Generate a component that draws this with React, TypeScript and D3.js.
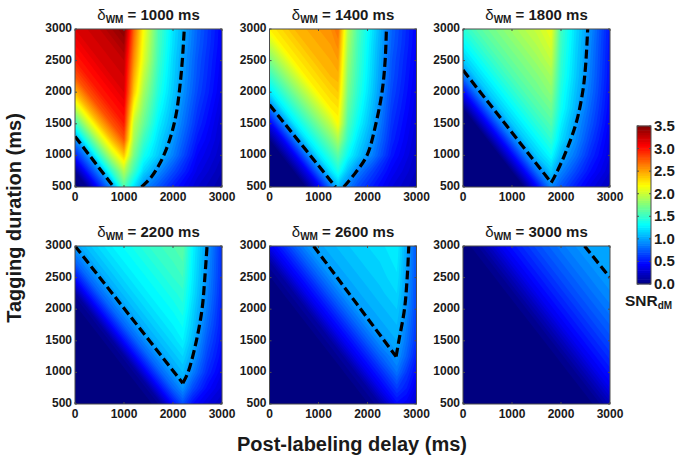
import React from "react";
import * as d3 from "d3";

// y grid of every panel (tagging duration, ms)
const rows = [500, 750, 1000, 1250, 1500, 1750, 2000, 2250, 2500, 2750, 3000];

const deltas = [1000, 1400, 1800, 2200, 2600, 3000];

const cols1 = [0, 250, 500, 750, 1000, 1200, 1400, 1700, 2000, 2500, 3000];
const snr1 = [
  [0, 0.1, 0.55, 0.95, 1.6, 1.25, 0.95, 0.75, 0.55, 0.3, 0.15],
  [0.1, 0.55, 0.95, 1.5, 1.95, 1.55, 1.2, 0.95, 0.72, 0.38, 0.2],
  [0.55, 0.95, 1.5, 2.0, 2.4, 1.75, 1.4, 1.15, 0.9, 0.45, 0.25],
  [0.95, 1.5, 2.0, 2.45, 2.8, 1.9, 1.55, 1.22, 0.98, 0.53, 0.28],
  [1.5, 2.0, 2.45, 2.8, 3.0, 2.0, 1.7, 1.3, 1.05, 0.6, 0.3],
  [2.0, 2.45, 2.8, 3.0, 3.1, 2.2, 1.8, 1.38, 1.1, 0.65, 0.34],
  [2.45, 2.8, 3.0, 3.1, 3.2, 2.4, 1.9, 1.45, 1.15, 0.7, 0.38],
  [2.8, 3.0, 3.1, 3.2, 3.25, 2.5, 2.0, 1.5, 1.18, 0.73, 0.4],
  [3.0, 3.1, 3.2, 3.25, 3.3, 2.6, 2.1, 1.55, 1.2, 0.75, 0.42],
  [3.1, 3.2, 3.25, 3.3, 3.4, 2.68, 2.15, 1.58, 1.23, 0.78, 0.44],
  [3.2, 3.25, 3.3, 3.4, 3.5, 2.75, 2.2, 1.6, 1.25, 0.8, 0.45],
];

const cols2 = [0, 250, 500, 750, 1000, 1250, 1400, 1600, 1800, 2100, 2500, 3000];
const snr2 = [
  [0, 0, 0, 0.05, 0.4, 0.85, 1.1, 0.9, 0.72, 0.55, 0.35, 0.2],
  [0, 0, 0.05, 0.4, 0.85, 1.25, 1.42, 1.12, 0.9, 0.68, 0.43, 0.24],
  [0, 0.05, 0.4, 0.85, 1.25, 1.5, 1.65, 1.35, 1.15, 0.9, 0.52, 0.27],
  [0.05, 0.4, 0.85, 1.25, 1.5, 1.75, 1.92, 1.5, 1.25, 0.98, 0.58, 0.3],
  [0.4, 0.85, 1.25, 1.5, 1.75, 2.0, 2.2, 1.6, 1.35, 1.05, 0.62, 0.33],
  [0.85, 1.25, 1.5, 1.75, 2.0, 2.25, 2.3, 1.68, 1.42, 1.1, 0.66, 0.36],
  [1.25, 1.5, 1.75, 2.0, 2.25, 2.35, 2.4, 1.75, 1.48, 1.15, 0.7, 0.38],
  [1.5, 1.75, 2.0, 2.25, 2.35, 2.45, 2.48, 1.8, 1.52, 1.18, 0.73, 0.4],
  [1.75, 2.0, 2.25, 2.35, 2.45, 2.5, 2.55, 1.85, 1.55, 1.2, 0.75, 0.42],
  [2.0, 2.25, 2.35, 2.45, 2.5, 2.55, 2.62, 1.9, 1.57, 1.22, 0.78, 0.44],
  [2.25, 2.35, 2.45, 2.5, 2.55, 2.6, 2.7, 1.95, 1.6, 1.25, 0.8, 0.45],
];

const cols3 = [0, 250, 500, 750, 1000, 1250, 1500, 1800, 2000, 2300, 2600, 3000];
const snr3 = [
  [0, 0, 0, 0, 0, 0.05, 0.45, 0.92, 0.75, 0.55, 0.38, 0.22],
  [0, 0, 0, 0, 0.05, 0.45, 0.85, 1.15, 0.92, 0.7, 0.5, 0.3],
  [0, 0, 0, 0.05, 0.45, 0.85, 1.15, 1.35, 1.07, 0.85, 0.6, 0.35],
  [0, 0, 0.05, 0.45, 0.85, 1.15, 1.32, 1.5, 1.22, 0.95, 0.68, 0.38],
  [0, 0.05, 0.45, 0.85, 1.15, 1.32, 1.47, 1.62, 1.3, 1.0, 0.75, 0.42],
  [0.05, 0.45, 0.85, 1.15, 1.32, 1.47, 1.6, 1.72, 1.38, 1.08, 0.8, 0.45],
  [0.45, 0.85, 1.15, 1.32, 1.47, 1.6, 1.7, 1.82, 1.42, 1.12, 0.85, 0.47],
  [0.85, 1.15, 1.32, 1.47, 1.6, 1.7, 1.78, 1.9, 1.47, 1.16, 0.88, 0.49],
  [1.15, 1.32, 1.47, 1.6, 1.7, 1.78, 1.87, 2.0, 1.5, 1.18, 0.9, 0.5],
  [1.32, 1.47, 1.6, 1.7, 1.78, 1.87, 1.95, 2.08, 1.53, 1.2, 0.92, 0.51],
  [1.47, 1.6, 1.7, 1.78, 1.87, 1.95, 2.02, 2.15, 1.55, 1.22, 0.95, 0.52],
];

const cols4 = [0, 250, 500, 750, 1000, 1250, 1500, 1750, 2000, 2200, 2400, 2700, 3000];
const snr4 = [
  [0, 0, 0, 0, 0, 0, 0.02, 0.12, 0.5, 0.72, 0.5, 0.35, 0.25],
  [0, 0, 0, 0, 0, 0.02, 0.12, 0.5, 0.8, 0.96, 0.72, 0.48, 0.33],
  [0, 0, 0, 0, 0.02, 0.12, 0.5, 0.8, 1.0, 1.1, 0.9, 0.6, 0.4],
  [0, 0, 0, 0.02, 0.12, 0.5, 0.8, 1.0, 1.12, 1.2, 1.02, 0.68, 0.46],
  [0, 0, 0.02, 0.12, 0.5, 0.8, 1.0, 1.12, 1.22, 1.3, 1.1, 0.75, 0.5],
  [0, 0.02, 0.12, 0.5, 0.8, 1.0, 1.12, 1.22, 1.3, 1.36, 1.16, 0.82, 0.53],
  [0.02, 0.12, 0.5, 0.8, 1.0, 1.12, 1.22, 1.3, 1.36, 1.43, 1.2, 0.88, 0.55],
  [0.12, 0.5, 0.8, 1.0, 1.12, 1.22, 1.3, 1.36, 1.43, 1.48, 1.25, 0.92, 0.58],
  [0.5, 0.8, 1.0, 1.12, 1.22, 1.3, 1.36, 1.43, 1.5, 1.55, 1.28, 0.95, 0.6],
  [0.8, 1.0, 1.12, 1.22, 1.3, 1.36, 1.43, 1.5, 1.55, 1.6, 1.3, 0.97, 0.61],
  [1.0, 1.12, 1.22, 1.3, 1.36, 1.43, 1.5, 1.55, 1.6, 1.65, 1.32, 0.99, 0.62],
];

const cols5 = [0, 250, 500, 750, 1000, 1250, 1500, 1750, 2000, 2250, 2600, 2800, 3000];
const snr5 = [
  [0, 0, 0, 0, 0, 0, 0, 0, 0.04, 0.14, 0.48, 0.42, 0.3],
  [0, 0, 0, 0, 0, 0, 0, 0.04, 0.14, 0.4, 0.66, 0.55, 0.38],
  [0, 0, 0, 0, 0, 0, 0.04, 0.14, 0.4, 0.58, 0.85, 0.65, 0.47],
  [0, 0, 0, 0, 0, 0.04, 0.14, 0.4, 0.58, 0.78, 0.98, 0.78, 0.55],
  [0, 0, 0, 0, 0.04, 0.14, 0.4, 0.58, 0.78, 0.95, 1.05, 0.85, 0.62],
  [0, 0, 0, 0.04, 0.14, 0.4, 0.58, 0.78, 0.95, 1.03, 1.1, 0.9, 0.65],
  [0, 0, 0.04, 0.14, 0.4, 0.58, 0.78, 0.95, 1.03, 1.08, 1.15, 0.95, 0.68],
  [0, 0.04, 0.14, 0.4, 0.58, 0.78, 0.95, 1.03, 1.08, 1.13, 1.2, 0.98, 0.7],
  [0.04, 0.14, 0.4, 0.58, 0.78, 0.95, 1.03, 1.08, 1.13, 1.17, 1.24, 1.0, 0.72],
  [0.14, 0.4, 0.58, 0.78, 0.95, 1.03, 1.08, 1.13, 1.17, 1.2, 1.27, 1.02, 0.74],
  [0.4, 0.58, 0.78, 0.95, 1.03, 1.08, 1.13, 1.17, 1.2, 1.23, 1.3, 1.03, 0.75],
];

const cols6 = [0, 250, 500, 750, 1000, 1250, 1500, 1750, 2000, 2250, 2500, 2750, 3000];
const snr6 = [
  [0, 0, 0, 0, 0, 0, 0, 0, 0, 0, 0.02, 0.07, 0.22],
  [0, 0, 0, 0, 0, 0, 0, 0, 0, 0.02, 0.07, 0.22, 0.4],
  [0, 0, 0, 0, 0, 0, 0, 0, 0.02, 0.07, 0.22, 0.4, 0.52],
  [0, 0, 0, 0, 0, 0, 0, 0.02, 0.07, 0.22, 0.4, 0.52, 0.62],
  [0, 0, 0, 0, 0, 0, 0.02, 0.07, 0.22, 0.4, 0.52, 0.62, 0.72],
  [0, 0, 0, 0, 0, 0.02, 0.07, 0.22, 0.4, 0.52, 0.62, 0.72, 0.8],
  [0, 0, 0, 0, 0.02, 0.07, 0.22, 0.4, 0.52, 0.62, 0.72, 0.8, 0.88],
  [0, 0, 0, 0.02, 0.07, 0.22, 0.4, 0.52, 0.62, 0.72, 0.8, 0.88, 0.94],
  [0, 0, 0.02, 0.07, 0.22, 0.4, 0.52, 0.62, 0.72, 0.8, 0.88, 0.94, 1.0],
  [0, 0.02, 0.07, 0.22, 0.4, 0.52, 0.62, 0.72, 0.8, 0.88, 0.94, 1.0, 1.03],
  [0.02, 0.07, 0.22, 0.4, 0.52, 0.62, 0.72, 0.8, 0.88, 0.94, 1.0, 1.03, 1.05],
];

// dashed SNR = 1 contour, two arms per panel: [delay, duration]
const dash1: number[][][] = [
  [[0, 1300], [790, 500]],
  [[1357, 500], [1550, 650], [1730, 870], [1880, 1130], [1990, 1400], [2075, 1700], [2140, 2085], [2190, 2500], [2230, 3000]],
];
const dash2: number[][][] = [
  [[0, 1800], [1350, 500]],
  [[1514, 500], [1750, 720], [1990, 1000], [2175, 1515], [2298, 2010], [2360, 2500], [2386, 3000]],
];
const dash3: number[][][] = [
  [[0, 2350], [1800, 570]],
  [[1800, 570], [1866, 660], [2070, 1000], [2308, 1510], [2444, 2010], [2500, 2400], [2545, 3000]],
];
const dash4: number[][][] = [
  [[0, 3000], [2200, 830]],
  [[2200, 830], [2307, 1000], [2477, 1500], [2593, 2000], [2650, 2500], [2695, 3000]],
];
const dash5: number[][][] = [
  [[900, 3000], [2584, 1250]],
  [[2584, 1250], [2640, 1500], [2755, 2000], [2810, 2500], [2843, 3000]],
];
const dash6: number[][][] = [[[2480, 3000], [3000, 2500]]];

const xTicks = [0, 1000, 2000, 3000];
const yTicks = [500, 1000, 1500, 2000, 2500, 3000];
const barTicks = [0, 0.5, 1, 1.5, 2, 2.5, 3, 3.5];
const levels = d3.range(1, 71).map((i) => i * 0.05);

const panels = [
  { cols: cols1, snr: snr1, dash: dash1 },
  { cols: cols2, snr: snr2, dash: dash2 },
  { cols: cols3, snr: snr3, dash: dash3 },
  { cols: cols4, snr: snr4, dash: dash4 },
  { cols: cols5, snr: snr5, dash: dash5 },
  { cols: cols6, snr: snr6, dash: dash6 },
];

const jet = d3
  .scaleLinear<string>()
  .domain([0, 0.4375, 1.3125, 2.1875, 3.0625, 3.5])
  .range(["#000080", "#0000ff", "#00ffff", "#ffff00", "#ff0000", "#800000"])
  .interpolate(d3.interpolateRgb)
  .clamp(true);

const font = "'Liberation Sans', Arial, sans-serif";
const ink = "#1a1a1a";
const frame = "#4d4d4d";
const lefts = [75, 269.5, 463];
const tops = [29, 246];
const W = 147;
const H = 158;

function Panel({ idx }: { idx: number }) {
  const { cols, snr, dash } = panels[idx];
  const left = lefts[idx % 3];
  const top = tops[idx < 3 ? 0 : 1];
  const x = d3.scaleLinear().domain([0, 3000]).range([left, left + W]);
  const y = d3.scaleLinear().domain([500, 3000]).range([top + H, top]);
  const n = cols.length;
  const m = rows.length;
  const flat = snr.flat();
  const contours = d3.contours().size([n, m]).thresholds(levels)(flat);
  const ix = d3.scaleLinear().domain(cols.map((_, i) => i + 0.5)).range(cols.map((c) => x(c))).clamp(true);
  const iy = d3.scaleLinear().domain(rows.map((_, i) => i + 0.5)).range(rows.map((r) => y(r))).clamp(true);
  const path = d3.geoPath(
    d3.geoTransform({
      point(this: any, a: number, b: number) {
        this.stream.point(ix(a), iy(b));
      },
    })
  );
  const line = d3
    .line<number[]>()
    .x((d) => x(d[0]))
    .y((d) => y(d[1]))
    .curve(d3.curveCatmullRom.alpha(0.5));
  const cid = `clip${idx}`;
  return (
    <g>
      <clipPath id={cid}>
        <rect x={left} y={top} width={W} height={H} />
      </clipPath>
      <rect x={left} y={top} width={W} height={H} fill={jet(0)} />
      <g clipPath={`url(#${cid})`}>
        {contours.map((c, i) => (
          <path key={i} d={path(c as any) || ""} fill={jet(c.value)} />
        ))}
        {dash.map((d, i) => (
          <path
            key={i}
            d={line(d as any) || ""}
            fill="none"
            stroke="#000"
            strokeWidth={3.2}
            strokeDasharray="9 4"
          />
        ))}
      </g>
      <rect x={left} y={top} width={W} height={H} fill="none" stroke={frame} strokeWidth={1} />
      {xTicks.map((t) => (
        <g key={t}>
          <line x1={x(t)} x2={x(t)} y1={top + H} y2={top + H - 2} stroke={frame} />
          <line x1={x(t)} x2={x(t)} y1={top} y2={top + 2} stroke={frame} />
          <text x={x(t)} y={top + H + 14} textAnchor="middle" fontSize={12} fontWeight="bold" fill={ink} fontFamily={font}>
            {t}
          </text>
        </g>
      ))}
      {yTicks.map((t) => (
        <g key={t}>
          <line x1={left} x2={left + 2} y1={y(t)} y2={y(t)} stroke={frame} />
          <line x1={left + W} x2={left + W - 2} y1={y(t)} y2={y(t)} stroke={frame} />
          <text x={left - 3} y={y(t) + 3} textAnchor="end" fontSize={12} fontWeight="bold" fill={ink} fontFamily={font}>
            {t}
          </text>
        </g>
      ))}
      <text x={left + W / 2} y={top - 9} textAnchor="middle" fontSize={15} fontWeight="bold" fill={ink} fontFamily={font}>
        <tspan fontWeight="normal">δ</tspan>
        <tspan fontSize={10} dy={3}>WM</tspan>
        <tspan dy={-3}>{` = ${deltas[idx]} ms`}</tspan>
      </text>
    </g>
  );
}

function ColorBar() {
  const bx = 637;
  const bw = 14;
  const by = d3.scaleLinear().domain([0, 3.5]).range([284, 126]);
  return (
    <g>
      {[0, ...levels.slice(0, -1)].map((l) => (
        <rect key={l} x={bx} y={by(l + 0.05) - 0.3} width={bw} height={by(l) - by(l + 0.05) + 0.6} fill={jet(l + 0.025)} />
      ))}
      <rect x={bx} y={126} width={bw} height={158} fill="none" stroke={frame} strokeWidth={1} />
      {barTicks.map((t) => (
        <g key={t}>
          <line x1={bx + bw} x2={bx + bw - 2} y1={by(t)} y2={by(t)} stroke={frame} />
          <line x1={bx} x2={bx + 2} y1={by(t)} y2={by(t)} stroke={frame} />
          <text x={654} y={by(t) + 5} fontSize={15} fontWeight="bold" fill={ink} fontFamily={font} stroke="none">
            {t.toFixed(1)}
          </text>
        </g>
      ))}
      <text x={625} y={306} fontSize={15.5} fontWeight="bold" fill={ink} fontFamily={font}>
        SNR
        <tspan fontSize={10} dy={3}>dM</tspan>
      </text>
    </g>
  );
}

export default function App() {
  return (
    <svg
      width={683}
      height={462}
      viewBox="0 0 683 462"
      style={{ position: "absolute", left: 0, top: 0, display: "block", background: "#fff" }}
    >
      {panels.map((_, i) => (
        <Panel key={i} idx={i} />
      ))}
      <ColorBar />
      <text
        transform="translate(21,218) rotate(-90)"
        textAnchor="middle"
        fontSize={20}
        fontWeight="bold"
        fill={ink}
        fontFamily={font}
      >
        Tagging duration (ms)
      </text>
      <text x={352} y={451} textAnchor="middle" fontSize={20} fontWeight="bold" fill={ink} fontFamily={font}>
        Post-labeling delay (ms)
      </text>
    </svg>
  );
}
